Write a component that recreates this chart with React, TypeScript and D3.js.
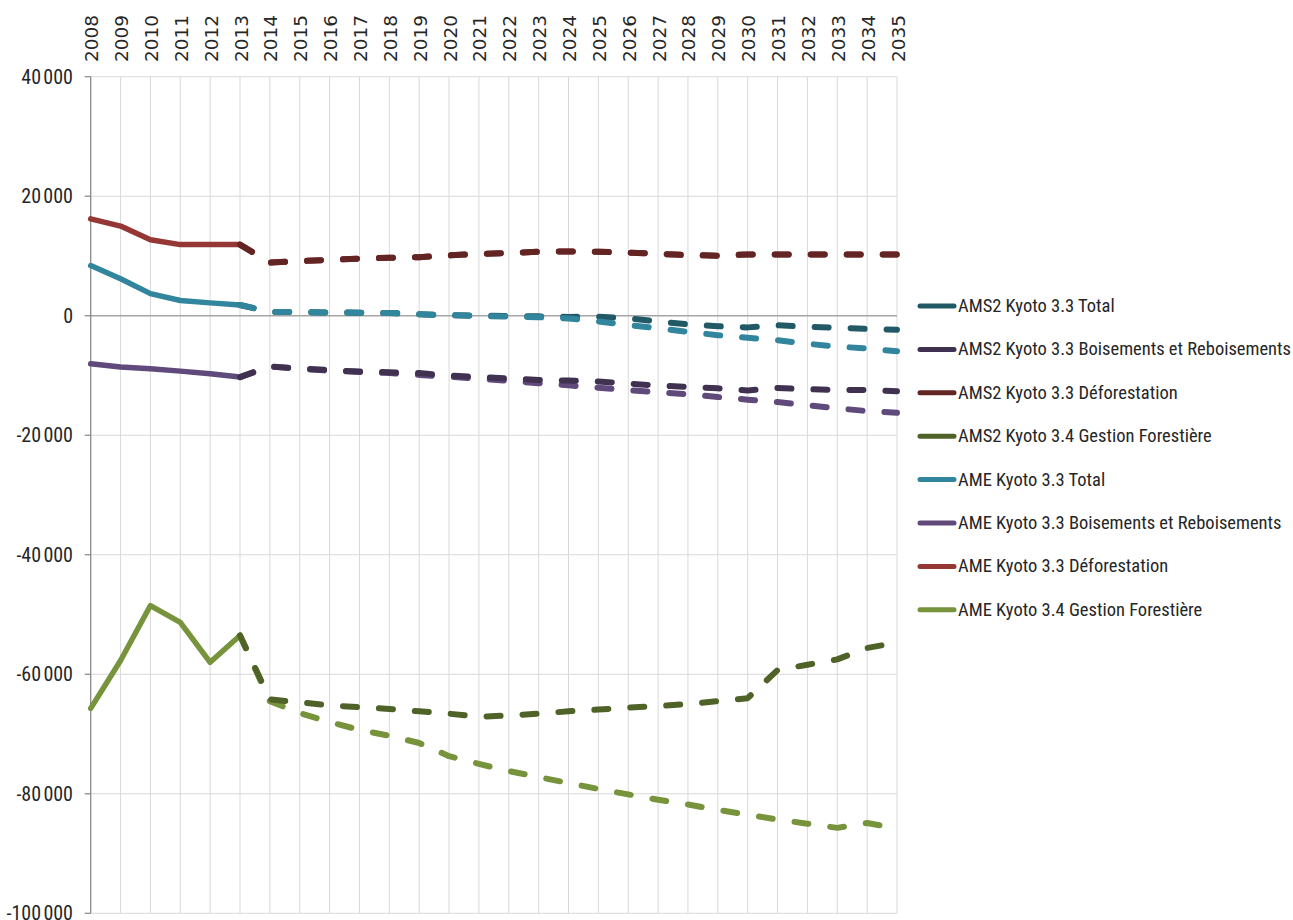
import React from "react";
import * as d3 from "d3";

const years = [2008, 2009, 2010, 2011, 2012, 2013, 2014, 2015, 2016, 2017, 2018, 2019, 2020, 2021, 2022, 2023, 2024, 2025, 2026, 2027, 2028, 2029, 2030, 2031, 2032, 2033, 2034, 2035];

const yTicks = [40000, 20000, 0, -20000, -40000, -60000, -80000, -100000];
const yTickLabels = ["40\u202F000", "20\u202F000", "0", "-20\u202F000", "-40\u202F000", "-60\u202F000", "-80\u202F000", "-100\u202F000"];

const N = null;
// AMS2 series (projection only, from 2013)
const ams2Total = [N, N, N, N, N, 1800, 650, 600, 550, 500, 450, 250, 100, 0, -50, -100, -200, -150, -450, -950, -1450, -1750, -1950, -1600, -1850, -2000, -2200, -2350];
const ams2Boisements = [N, N, N, N, N, -10270, -8500, -8800, -9100, -9350, -9450, -9600, -10000, -10250, -10500, -10750, -10850, -11000, -11350, -11700, -11900, -12150, -12500, -12100, -12300, -12400, -12450, -12620];
const ams2Deforestation = [N, N, N, N, N, 11900, 8900, 9150, 9350, 9550, 9700, 9800, 10100, 10350, 10500, 10700, 10750, 10700, 10550, 10350, 10150, 10050, 10250, 10250, 10250, 10250, 10250, 10250];
const ams2Gestion = [N, N, N, N, N, -53500, -64200, -64700, -65200, -65500, -65800, -66200, -66600, -67100, -66900, -66600, -66200, -65900, -65600, -65300, -65000, -64500, -64000, -59300, -58400, -57500, -55600, -54700];
// AME series (history 2008-2013 + projection)
const ameTotal = [8400, 6200, 3700, 2550, 2150, 1800, 650, 600, 550, 500, 450, 250, 100, -50, -150, -250, -450, -950, -1550, -2100, -2700, -3250, -3700, -4100, -4700, -5150, -5500, -5950];
const ameBoisements = [-8030, -8590, -8870, -9270, -9700, -10270, -8500, -8900, -9200, -9400, -9600, -9900, -10200, -10550, -10900, -11280, -11650, -12050, -12450, -12800, -13150, -13600, -14050, -14450, -14950, -15500, -15950, -16250];
const ameDeforestation = [16200, 15000, 12700, 11900, 11900, 11900, 8900, 9150, 9350, 9550, 9700, 9800, 10100, 10350, 10500, 10700, 10750, 10700, 10550, 10350, 10150, 10050, 10250, 10250, 10250, 10250, 10250, 10250];
const ameGestion = [-65700, -57700, -48500, -51300, -58000, -53500, -64500, -66500, -68000, -69300, -70300, -71500, -73700, -75000, -76200, -77200, -78200, -79200, -80100, -81000, -81800, -82700, -83500, -84300, -85000, -85700, -84900, -85800];

const HIST_END = 2013;

const series = [
  { name: "AMS2 Kyoto 3.3 Total", values: ams2Total, color: "#215967" },
  { name: "AMS2 Kyoto 3.3 Boisements et Reboisements", values: ams2Boisements, color: "#403151" },
  { name: "AMS2 Kyoto 3.3 Déforestation", values: ams2Deforestation, color: "#632523" },
  { name: "AMS2 Kyoto 3.4 Gestion Forestière", values: ams2Gestion, color: "#4F6228" },
  { name: "AME Kyoto 3.3 Total", values: ameTotal, color: "#31859C" },
  { name: "AME Kyoto 3.3 Boisements et Reboisements", values: ameBoisements, color: "#604A7B" },
  { name: "AME Kyoto 3.3 Déforestation", values: ameDeforestation, color: "#953735" },
  { name: "AME Kyoto 3.4 Gestion Forestière", values: ameGestion, color: "#77933C" },
];

// drawing order of dashed projections (index into series)
const dashOrder = [0, 4, 5, 6, 7, 1, 2, 3];

const W = 1293;
const H = 920;
const left = 90.7;
const right = 897;
const top = 76.7;
const bottom = 913.3;

const x = d3.scaleLinear().domain([years[0], years[years.length - 1]]).range([left, right]);
const y = d3.scaleLinear().domain([-100000, 40000]).range([bottom, top]);

type Pt = { year: number; v: number | null };

const line = d3
  .line<Pt>()
  .defined((d) => d.v !== null)
  .x((d) => x(d.year))
  .y((d) => y(d.v as number));

const narrow = "'Liberation Sans Narrow', 'Arial Narrow', 'Roboto Condensed', 'Liberation Sans', sans-serif";

export default function App() {
  const pts = (vals: (number | null)[]) => years.map((yr, i) => ({ year: yr, v: vals[i] }));
  const hist = (vals: (number | null)[]) => pts(vals).filter((d) => d.year <= HIST_END);
  const proj = (vals: (number | null)[]) => pts(vals).filter((d) => d.year >= HIST_END);

  const legendX = 918;
  const legendY0 = 306;
  const legendStep = 43.4;

  return (
    <svg
      width={W}
      height={H}
      style={{ position: "absolute", left: 0, top: 0, background: "#fff" }}
    >
      {/* vertical gridlines */}
      {years.map((yr) => (
        <line key={"vg" + yr} x1={x(yr)} x2={x(yr)} y1={top} y2={bottom} stroke="#d9d9d9" strokeWidth={1} />
      ))}
      {/* horizontal gridlines */}
      {yTicks.map((t) => (
        <line
          key={"hg" + t}
          x1={left}
          x2={right}
          y1={y(t)}
          y2={y(t)}
          stroke={t === 0 ? "#a6a6a6" : "#d9d9d9"}
          strokeWidth={t === 0 ? 1.5 : 1}
        />
      ))}
      {/* y axis */}
      <line x1={left} x2={left} y1={top} y2={bottom} stroke="#868686" strokeWidth={1.2} />
      {yTicks.map((t, i) => (
        <g key={"yt" + t}>
          <line x1={left - 6} x2={left} y1={y(t)} y2={y(t)} stroke="#868686" strokeWidth={1.2} />
          <text
            x={73}
            y={y(t)}
            textAnchor="end"
            dominantBaseline="central"
            fontFamily={narrow}
            fontSize={20}
            fill="#262626"
          >
            {yTickLabels[i]}
          </text>
        </g>
      ))}
      {/* year labels */}
      {years.map((yr) => (
        <text
          key={"xl" + yr}
          transform={`translate(${x(yr) + 1},62) rotate(-90)`}
          textAnchor="start"
          dominantBaseline="central"
          fontFamily="'DejaVu Sans', sans-serif"
          fontSize={18.5}
          fill="#262626"
          x={0}
          y={0}
        >
          {String(yr)}
        </text>
      ))}
      {/* historical solid lines */}
      {series.map((s, i) => {
        const h = hist(s.values).filter((d) => d.v !== null);
        if (h.length < 2) return null;
        return (
          <path
            key={"h" + i}
            d={line(h) || ""}
            fill="none"
            stroke={s.color}
            strokeWidth={5.5}
            strokeLinejoin="round"
            strokeLinecap="round"
          />
        );
      })}
      {/* projections dashed */}
      {dashOrder.map((i) => {
        const s = series[i];
        return (
          <path
            key={"p" + i}
            d={line(proj(s.values)) || ""}
            fill="none"
            stroke={s.color}
            strokeWidth={6}
            strokeDasharray="14 22"
            strokeLinejoin="round"
            strokeLinecap="round"
          />
        );
      })}
      {/* legend */}
      {series.map((s, i) => {
        const cy = legendY0 + i * legendStep;
        return (
          <g key={"lg" + i}>
            <line x1={legendX + 2} x2={legendX + 36} y1={cy} y2={cy} stroke={s.color} strokeWidth={5} strokeLinecap="round" />
            <text
              x={legendX + 40}
              y={cy}
              dominantBaseline="central"
              fontFamily={narrow}
              fontSize={18.5}
              fill="#262626"
            >
              {s.name}
            </text>
          </g>
        );
      })}
    </svg>
  );
}
